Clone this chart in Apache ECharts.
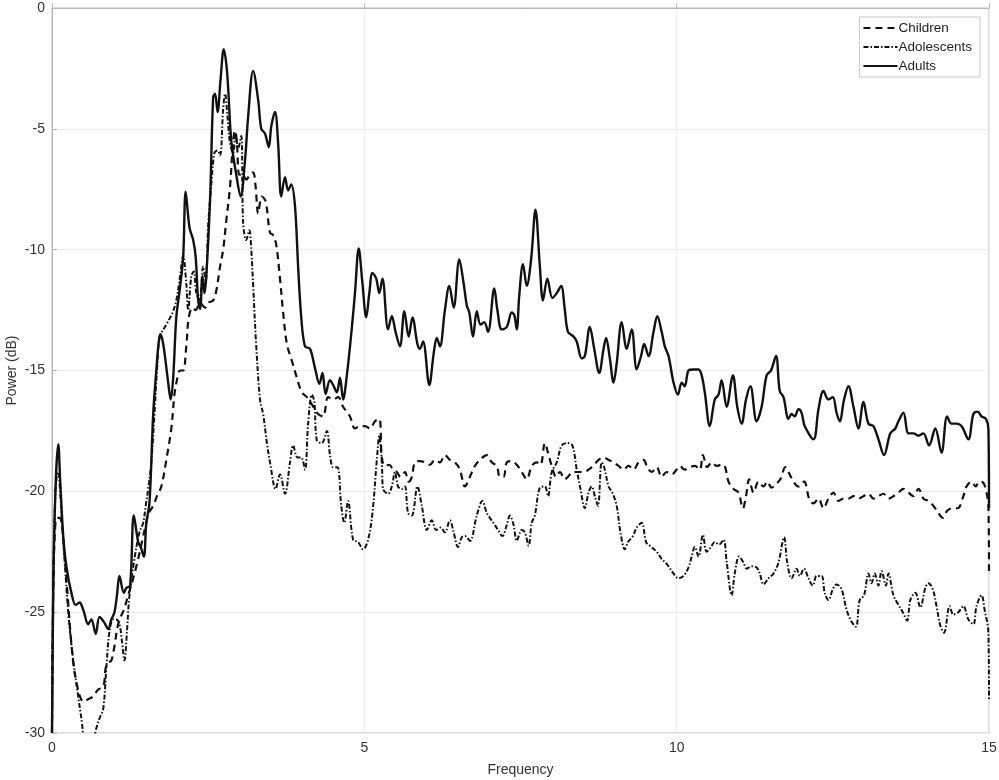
<!DOCTYPE html>
<html>
<head>
<meta charset="utf-8">
<script src="https://cdn.jsdelivr.net/npm/echarts@6/dist/echarts.min.js"></script>
<style>
html,body{margin:0;padding:0;background:#fff;}
#chart{width:999px;height:780px;}
</style>
</head>
<body>
<div id="chart"></div>
<script>
// ---- data ----
const seriesNames = ['Children', 'Adolescents', 'Adults'];
const xTicks = [0, 5, 10, 15];
const yTicks = [-30, -25, -20, -15, -10, -5, 0];

const adultsFreq = [0.00,0.02,0.04,0.07,0.10,0.13,0.18,0.23,0.31,0.38,0.44,0.50,0.58,0.63,0.70,0.76,0.83,0.90,0.95,1.00,1.04,1.08,1.15,1.19,1.25,1.31,1.38,1.42,1.47,1.51,1.56,1.62,1.67,1.71,1.74,1.78,1.81,1.86,1.90,1.94,1.99,2.05,2.10,2.14,2.20,2.26,2.30,2.34,2.37,2.41,2.44,2.47,2.53,2.58,2.61,2.65,2.70,2.75,2.79,2.82,2.87,2.95,3.02,3.09,3.14,3.22,3.30,3.35,3.41,3.47,3.51,3.57,3.62,3.67,3.73,3.78,3.83,3.89,3.94,3.99,4.05,4.13,4.21,4.28,4.33,4.38,4.45,4.50,4.56,4.61,4.66,4.72,4.79,4.85,4.91,4.97,5.03,5.08,5.13,5.19,5.24,5.29,5.38,5.44,5.50,5.57,5.64,5.71,5.77,5.85,5.89,5.94,6.04,6.11,6.16,6.21,6.29,6.36,6.43,6.52,6.59,6.64,6.68,6.74,6.80,6.86,6.92,6.98,7.08,7.13,7.20,7.28,7.36,7.40,7.44,7.48,7.54,7.60,7.67,7.74,7.81,7.86,7.93,8.01,8.08,8.15,8.21,8.26,8.35,8.40,8.48,8.53,8.61,8.68,8.76,8.83,8.87,8.93,8.99,9.04,9.12,9.20,9.28,9.36,9.43,9.48,9.55,9.63,9.69,9.76,9.81,9.87,9.95,10.02,10.08,10.13,10.19,10.27,10.35,10.40,10.45,10.53,10.61,10.67,10.72,10.80,10.90,10.97,11.04,11.11,11.18,11.28,11.36,11.44,11.51,11.59,11.65,11.71,11.79,11.84,11.89,11.95,12.00,12.05,12.19,12.27,12.35,12.43,12.50,12.56,12.61,12.68,12.75,12.83,12.91,12.99,13.07,13.15,13.23,13.32,13.42,13.50,13.55,13.63,13.71,13.79,13.87,13.95,14.04,14.14,14.24,14.33,14.40,14.48,14.56,14.67,14.75,14.82,14.88,14.95,14.99,15.00];
const adultsPower = [-30,-24,-21.3,-19.0,-18.05,-19.5,-21.85,-23.1,-24.2,-24.7,-24.6,-24.9,-25.5,-25.3,-25.9,-25.2,-25.4,-25.7,-25.3,-25.0,-24.3,-23.5,-24.2,-24.0,-23.9,-21.0,-22.1,-22.3,-22.7,-21.3,-20.5,-16.8,-15.0,-13.8,-13.5,-13.9,-14.45,-15.5,-16.2,-15.3,-12.8,-11.55,-10.3,-7.6,-9.07,-9.6,-10.3,-12.1,-12.45,-11.1,-11.8,-11.1,-7.97,-3.7,-3.55,-4.3,-2.9,-1.7,-2.3,-3.3,-5.5,-6.9,-7.8,-6.3,-4.5,-2.6,-3.8,-5.0,-5.2,-5.76,-4.9,-4.3,-5.6,-7.8,-7.0,-7.55,-7.3,-8.2,-10.7,-12.8,-14.0,-14.1,-14.9,-15.55,-15.1,-15.97,-15.4,-15.6,-15.9,-15.3,-16.2,-15.2,-13.5,-11.8,-9.95,-11.4,-12.8,-11.8,-10.96,-11.2,-11.8,-11.2,-13.3,-12.75,-13.4,-14.0,-12.55,-13.6,-12.8,-13.9,-14.1,-13.8,-15.6,-14.3,-13.65,-14.0,-12.5,-11.5,-12.4,-10.4,-11.4,-12.3,-12.6,-13.6,-12.55,-13.1,-13.0,-13.4,-11.6,-12.5,-13.3,-13.2,-12.6,-12.7,-13.3,-11.9,-10.6,-11.5,-10.4,-8.35,-10.7,-12.1,-11.2,-12.0,-11.8,-11.5,-12.5,-13.4,-13.6,-13.8,-14.5,-14.4,-13.2,-14.1,-15.1,-14.1,-13.65,-14.5,-15.5,-14.7,-13.0,-14.1,-13.3,-14.95,-14.4,-13.9,-14.4,-13.4,-12.75,-13.4,-14.0,-14.4,-15.5,-16.0,-15.5,-15.65,-15.0,-14.96,-14.96,-15.2,-15.9,-17.3,-16.2,-16.0,-15.4,-16.5,-15.2,-16.5,-17.2,-16.2,-15.65,-17.1,-16.5,-15.2,-15.0,-14.4,-15.85,-16.1,-17.0,-16.8,-16.9,-16.6,-16.75,-17.3,-17.85,-16.6,-15.85,-16.2,-16.1,-16.75,-17.1,-16.2,-15.65,-16.5,-17.4,-16.3,-17.2,-17.3,-17.85,-18.5,-17.6,-17.4,-17.1,-16.75,-17.6,-17.6,-17.7,-17.6,-18.1,-17.4,-18.4,-16.9,-17.2,-17.2,-17.3,-17.85,-16.8,-16.7,-16.9,-17.0,-17.4,-20.7];

const childrenFreq = [0.00,0.02,0.05,0.08,0.12,0.16,0.20,0.25,0.30,0.35,0.40,0.45,0.50,0.58,0.65,0.74,0.82,0.86,0.90,0.95,1.00,1.05,1.10,1.15,1.22,1.30,1.37,1.43,1.50,1.55,1.62,1.68,1.75,1.83,1.91,1.96,2.00,2.05,2.10,2.15,2.19,2.25,2.30,2.37,2.45,2.50,2.58,2.63,2.69,2.74,2.79,2.85,2.90,2.93,2.96,3.00,3.06,3.11,3.17,3.22,3.26,3.30,3.36,3.42,3.49,3.54,3.59,3.65,3.70,3.76,3.84,3.92,4.00,4.08,4.16,4.26,4.34,4.42,4.50,4.58,4.66,4.77,4.85,4.93,5.01,5.09,5.17,5.24,5.28,5.33,5.40,5.46,5.52,5.58,5.65,5.71,5.76,5.81,5.89,5.97,6.05,6.13,6.21,6.29,6.37,6.45,6.53,6.61,6.69,6.77,6.85,6.96,7.04,7.12,7.17,7.23,7.28,7.36,7.44,7.52,7.60,7.68,7.76,7.82,7.89,7.94,8.00,8.07,8.13,8.21,8.26,8.34,8.43,8.51,8.59,8.66,8.75,8.83,8.91,8.99,9.07,9.15,9.23,9.31,9.39,9.47,9.53,9.60,9.68,9.76,9.84,9.92,10.00,10.05,10.13,10.21,10.29,10.37,10.42,10.49,10.56,10.64,10.72,10.77,10.83,10.91,10.99,11.06,11.11,11.16,11.23,11.31,11.39,11.45,11.52,11.59,11.66,11.74,11.79,11.87,11.95,12.04,12.12,12.19,12.27,12.35,12.43,12.51,12.59,12.67,12.75,12.83,12.91,12.99,13.07,13.15,13.23,13.31,13.39,13.47,13.55,13.63,13.71,13.79,13.87,13.95,14.03,14.11,14.19,14.26,14.33,14.42,14.50,14.59,14.64,14.72,14.79,14.84,14.91,14.96,14.99,15.00];
const childrenPower = [-30,-24,-21.5,-21.1,-21.1,-21.4,-22.6,-24.3,-26.0,-27.3,-28.0,-28.5,-28.7,-28.6,-28.5,-28.2,-28.1,-27.3,-27.1,-27.0,-26.4,-25.6,-25.2,-24.9,-24.3,-23.6,-22.9,-22.2,-21.4,-20.9,-20.6,-20.2,-19.8,-18.7,-17.4,-16.0,-15.4,-15.0,-15.0,-14.0,-12.8,-12.4,-12.5,-12.2,-12.4,-12.2,-12.1,-11.7,-10.7,-10.0,-8.8,-7.4,-5.5,-5.07,-5.6,-6.9,-6.9,-7.1,-6.9,-6.8,-7.4,-8.5,-7.8,-8.0,-9.3,-9.4,-9.8,-11.2,-12.6,-13.9,-14.6,-15.3,-15.9,-16.1,-16.4,-16.8,-16.9,-16.1,-16.2,-16.1,-16.5,-16.9,-17.4,-17.3,-17.3,-17.4,-17.1,-17.0,-18.6,-18.95,-18.9,-19.1,-19.2,-19.4,-19.2,-19.6,-19.4,-18.8,-18.75,-18.8,-18.9,-18.7,-18.8,-18.5,-18.7,-18.8,-19.1,-19.8,-19.4,-18.95,-18.7,-18.5,-18.8,-18.95,-19.4,-19.4,-18.8,-18.75,-18.9,-19.2,-19.5,-18.95,-18.8,-18.9,-18.0,-18.4,-18.95,-19.4,-19.2,-19.5,-19.4,-19.2,-19.2,-19.2,-19.1,-18.95,-18.7,-18.6,-18.7,-18.8,-18.95,-19.1,-18.95,-19.1,-18.8,-18.7,-19.0,-19.2,-19.0,-19.4,-19.2,-19.3,-19.1,-18.95,-19.1,-19.0,-18.95,-19.1,-18.5,-19.0,-18.8,-18.95,-18.9,-18.95,-19.6,-19.9,-20.05,-20.7,-20.2,-19.5,-20.05,-19.6,-19.8,-19.6,-19.85,-19.7,-19.5,-19.0,-19.2,-19.6,-19.8,-19.6,-20.3,-20.5,-20.3,-20.7,-20.3,-20.05,-20.4,-20.3,-20.3,-20.2,-20.3,-20.2,-20.1,-20.3,-20.2,-20.1,-20.3,-20.2,-20.05,-19.9,-20.05,-20.2,-19.9,-20.3,-20.4,-20.6,-20.9,-21.1,-20.8,-20.7,-20.7,-20.2,-19.8,-19.6,-19.8,-19.6,-19.65,-20.05,-20.6,-23.3];

const adolescentsFreq = [0.00,0.02,0.05,0.08,0.10,0.13,0.16,0.20,0.26,0.34,0.42,0.48,0.52,0.60,0.66,0.70,0.76,0.82,0.87,0.92,0.98,1.03,1.08,1.12,1.16,1.20,1.24,1.32,1.40,1.46,1.50,1.54,1.59,1.64,1.68,1.72,1.76,1.83,1.93,1.99,2.05,2.10,2.15,2.18,2.23,2.27,2.31,2.36,2.42,2.46,2.50,2.55,2.60,2.65,2.69,2.74,2.77,2.81,2.85,2.90,2.94,2.98,3.03,3.06,3.11,3.16,3.19,3.22,3.27,3.33,3.38,3.44,3.49,3.58,3.65,3.73,3.81,3.86,3.93,3.99,4.05,4.10,4.16,4.20,4.24,4.32,4.40,4.45,4.50,4.57,4.63,4.68,4.74,4.82,4.90,4.98,5.06,5.13,5.20,5.24,5.28,5.30,5.38,5.44,5.49,5.54,5.60,5.65,5.70,5.76,5.85,5.92,6.00,6.08,6.15,6.22,6.29,6.37,6.43,6.50,6.56,6.61,6.69,6.80,6.89,6.96,7.01,7.09,7.14,7.21,7.28,7.33,7.39,7.44,7.52,7.57,7.63,7.68,7.73,7.81,7.89,7.94,8.00,8.08,8.16,8.25,8.33,8.40,8.46,8.53,8.59,8.64,8.69,8.74,8.80,8.84,8.91,8.97,9.04,9.10,9.17,9.22,9.30,9.36,9.44,9.51,9.57,9.68,9.76,9.84,9.95,10.03,10.11,10.19,10.24,10.29,10.35,10.42,10.48,10.55,10.61,10.68,10.75,10.80,10.88,10.93,11.00,11.07,11.12,11.20,11.28,11.33,11.39,11.47,11.55,11.63,11.72,11.77,11.84,11.92,11.97,12.04,12.11,12.18,12.24,12.32,12.37,12.43,12.50,12.56,12.64,12.72,12.80,12.87,12.93,13.00,13.07,13.12,13.17,13.23,13.28,13.35,13.39,13.47,13.55,13.62,13.69,13.74,13.82,13.90,13.98,14.03,14.10,14.16,14.22,14.28,14.37,14.43,14.51,14.59,14.67,14.75,14.80,14.88,14.93,14.99,15.00];
const adolescentsPower = [-30,-24,-20.3,-19.3,-19.2,-20.0,-21.3,-22.8,-25.0,-27.0,-28.5,-29.6,-30.5,-31,-30.5,-29.9,-29.4,-29.0,-27.3,-25.8,-25.3,-25.3,-25.5,-26.2,-27.0,-25.8,-24.3,-22.8,-21.7,-21.3,-20.6,-19.9,-18.8,-16.8,-15.0,-13.6,-13.4,-13.1,-12.6,-12.1,-11.1,-10.24,-11.4,-12.5,-11.1,-10.9,-11.8,-12.1,-10.7,-11.3,-9.0,-7.3,-6.0,-5.9,-6.1,-4.2,-3.55,-4.5,-5.6,-6.0,-5.2,-5.8,-5.3,-8.9,-9.6,-9.2,-10.0,-11.5,-14.0,-16.2,-16.8,-18.0,-18.8,-19.9,-19.3,-20.1,-18.8,-18.1,-18.6,-18.6,-19.1,-17.2,-16.0,-16.3,-17.9,-18.0,-17.5,-18.5,-19.0,-19.0,-20.6,-21.3,-20.4,-22.0,-22.1,-22.4,-22.0,-20.9,-18.7,-17.7,-18.8,-19.9,-20.1,-19.8,-19.2,-19.8,-19.9,-19.8,-20.9,-21.0,-19.8,-20.6,-21.6,-21.2,-21.6,-21.5,-21.7,-21.2,-21.7,-22.3,-21.9,-21.85,-22.05,-21.0,-20.4,-20.9,-21.1,-21.4,-21.6,-21.85,-21.4,-21.0,-21.4,-22.05,-21.6,-21.7,-22.25,-21.3,-21.0,-19.85,-19.8,-20.2,-19.2,-18.8,-18.1,-18.0,-18.1,-19.1,-19.9,-20.7,-20.05,-19.8,-20.2,-20.6,-18.8,-19.0,-19.8,-20.05,-20.6,-21.7,-22.4,-22.1,-21.85,-21.5,-21.3,-22.1,-22.25,-22.5,-22.8,-23.0,-23.4,-23.6,-23.5,-23.15,-22.7,-22.3,-22.7,-21.8,-22.5,-22.3,-22.1,-22.2,-22.0,-22.9,-24.3,-23.4,-22.7,-22.95,-23.2,-23.1,-23.15,-23.4,-23.85,-23.6,-23.4,-22.95,-21.9,-22.95,-23.6,-23.2,-23.5,-23.2,-23.6,-23.9,-23.5,-23.5,-24.2,-24.5,-24.05,-23.85,-24.05,-24.9,-25.4,-25.6,-24.5,-24.3,-23.4,-23.8,-23.4,-23.9,-23.3,-23.9,-23.4,-24.3,-24.7,-25.0,-25.35,-24.5,-24.2,-24.8,-24.0,-23.8,-24.05,-24.75,-25.55,-25.85,-24.75,-25.1,-25.0,-24.75,-25.3,-25.5,-24.75,-24.3,-24.9,-25.85,-28.6];

// ---- build ----
function pairs(fs, ps) { return fs.map((f, i) => [f, ps[i]]); }
const seriesData = [
  pairs(childrenFreq, childrenPower),
  pairs(adolescentsFreq, adolescentsPower),
  pairs(adultsFreq, adultsPower)
];
const lineStyles = [
  { color: '#111', width: 2.2, type: [7, 5] },
  { color: '#111', width: 2, type: [5, 2, 1.5, 2] },
  { color: '#111', width: 2.4, type: 'solid' }
];

const chart = echarts.init(document.getElementById('chart'), null, { renderer: 'canvas' });
const fontFam = '"Liberation Sans", Arial, Helvetica, sans-serif';
chart.setOption({
  animation: false,
  backgroundColor: '#fff',
  textStyle: { fontFamily: fontFam },
  grid: {
    left: 52, right: 10, top: 8, bottom: 47,
    containLabel: false, outerBoundsMode: 'none',
    show: true, borderColor: '#b8b8b8', borderWidth: 1, backgroundColor: 'transparent'
  },
  legend: {
    data: seriesNames,
    orient: 'vertical',
    right: 19, top: 17,
    itemWidth: 34, itemHeight: 14, itemGap: 5,
    padding: [4, 8, 4, 3],
    borderColor: '#c8c8c8', borderWidth: 1,
    backgroundColor: '#fff',
    itemStyle: { color: 'rgba(0,0,0,0)', borderColor: 'rgba(0,0,0,0)', borderWidth: 0, opacity: 0 },
    textStyle: { fontSize: 13.5, color: '#222', fontFamily: fontFam, padding: [0, 0, 0, -4] }
  },
  xAxis: {
    type: 'value', min: xTicks[0], max: xTicks[xTicks.length - 1], interval: 5,
    name: 'Frequency', nameLocation: 'middle', nameGap: 30, nameMoveOverlap: false,
    nameTextStyle: { fontSize: 14, color: '#333' },
    axisLine: { show: true, lineStyle: { color: '#b8b8b8' } },
    axisTick: { show: true, inside: true, length: 5, lineStyle: { color: '#b8b8b8' } },
    axisLabel: { fontSize: 14, color: '#333', margin: 8 },
    splitLine: { show: true, lineStyle: { color: '#ececec', width: 1 } }
  },
  yAxis: {
    type: 'value', min: yTicks[0], max: yTicks[yTicks.length - 1], interval: 5,
    name: 'Power (dB)', nameLocation: 'middle', nameGap: 33, nameRotate: 90, nameMoveOverlap: false,
    nameTextStyle: { fontSize: 14, color: '#333' },
    axisLine: { show: true, lineStyle: { color: '#b8b8b8' } },
    axisTick: { show: true, inside: true, length: 5, lineStyle: { color: '#b8b8b8' } },
    axisLabel: { fontSize: 14, color: '#333', margin: 7 },
    splitLine: { show: true, lineStyle: { color: '#ececec', width: 1 } }
  },
  series: seriesNames.map((name, i) => ({
    name: name,
    type: 'line',
    data: seriesData[i],
    showSymbol: false,
    symbol: 'none',
    smooth: 0.35,
    clip: true,
    lineStyle: lineStyles[i],
    itemStyle: { color: '#111' },
    z: 3 - i
  }))
});
</script>
</body>
</html>
